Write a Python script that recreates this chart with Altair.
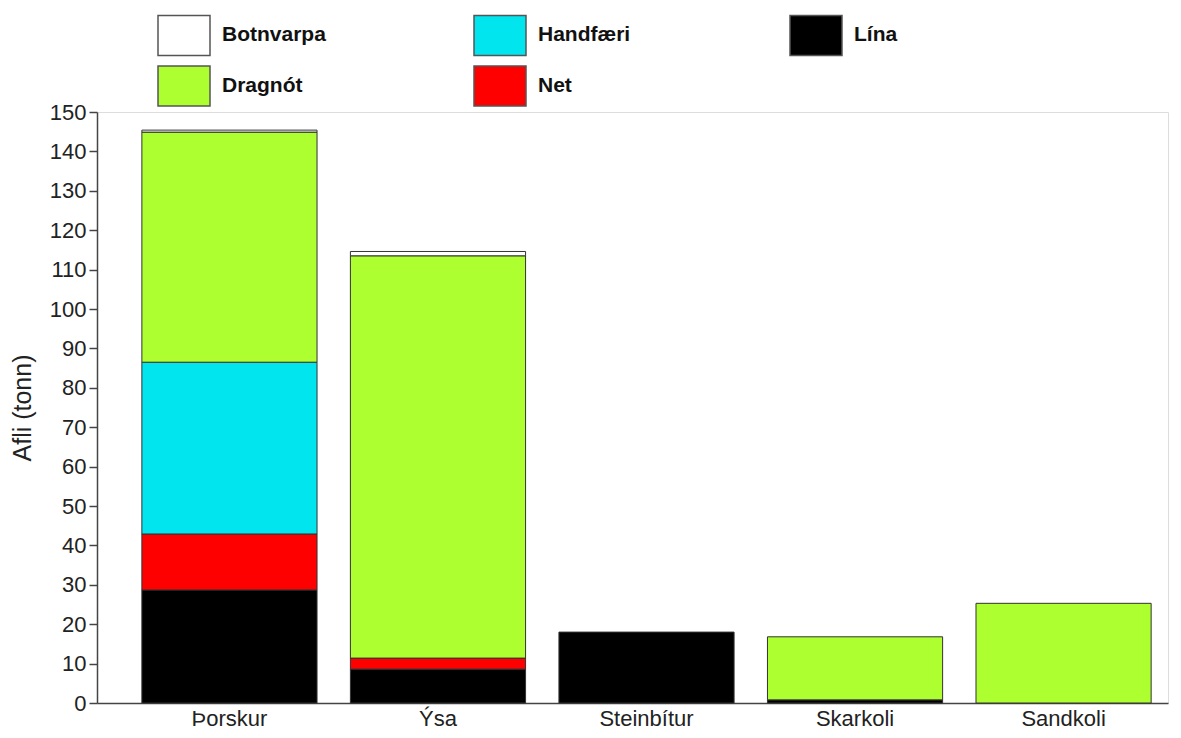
import altair as alt
import pandas as pd

species = ["Þorskur", "Ýsa", "Steinbítur", "Skarkoli", "Sandkoli"]
gears_stack = ["Lína", "Net", "Handfæri", "Dragnót", "Botnvarpa"]
legend_order = ["Botnvarpa", "Dragnót", "Handfæri", "Net", "Lína"]
gear_colors = {"Botnvarpa": "#ffffff", "Handfæri": "#00e5ee", "Lína": "#000000",
               "Dragnót": "#adff2f", "Net": "#ff0000"}

lina = [28.7, 8.6, 18.0, 0.8, 0.0]
net = [14.2, 2.8, 0.0, 0.0, 0.0]
handfaeri = [43.6, 0.0, 0.0, 0.0, 0.0]
dragnot = [58.4, 102.1, 0.0, 16.0, 25.3]
botnvarpa = [0.5, 1.1, 0.0, 0.0, 0.0]
y_ticks = list(range(0, 151, 10))

series = {"Lína": lina, "Net": net, "Handfæri": handfaeri,
          "Dragnót": dragnot, "Botnvarpa": botnvarpa}
rows = []
for g_i, g in enumerate(gears_stack):
    for s, v in zip(species, series[g]):
        if v > 0:
            rows.append({"Tegund": s, "Veiðarfæri": g, "Afli": v, "ord": g_i})
df = pd.DataFrame(rows)

font = "Liberation Sans"
rect_path = "M-1,-0.77H1V0.77H-1Z"

chart = alt.Chart(df).mark_bar(stroke="#333333", strokeWidth=1).encode(
    x=alt.X("Tegund:N", sort=species, title=None,
            scale=alt.Scale(paddingInner=0.16, paddingOuter=0.148, align=0.727),
            axis=alt.Axis(labelAngle=0, ticks=False, labelFontSize=22, labelFont=font,
                          labelColor="#222222", labelPadding=5, domainColor="#444444",
                          domainWidth=1.5)),
    y=alt.Y("Afli:Q", stack="zero", title="Afli (tonn)",
            scale=alt.Scale(domain=[0, 150], nice=False),
            axis=alt.Axis(values=y_ticks, grid=False, tickSize=8, tickColor="#444444",
                          tickWidth=1.5, labelFontSize=22, labelFont=font,
                          labelColor="#222222", labelPadding=3, domainColor="#444444",
                          domainWidth=1.5, titleFont=font, titleFontSize=25,
                          titleFontWeight="normal", titleColor="#222222", titlePadding=14)),
    color=alt.Color("Veiðarfæri:N",
                    scale=alt.Scale(domain=legend_order,
                                    range=[gear_colors[g] for g in legend_order]),
                    legend=alt.Legend(title=None, orient="none", legendX=60, legendY=-104,
                                      columns=3, gridAlign="all", columnPadding=145,
                                      rowPadding=-8, symbolType=rect_path, symbolSize=2704,
                                      symbolStrokeColor="#555555", symbolStrokeWidth=1.5,
                                      symbolOpacity=1, labelFont=font, labelFontSize=21,
                                      labelFontWeight="bold", labelColor="#111111",
                                      labelOffset=11)),
    order=alt.Order("ord:Q", sort="ascending"),
).properties(
    width=1071, height=591,
    autosize=alt.AutoSizeParams(type="none"),
    padding={"left": 89, "top": 104, "right": 5, "bottom": 27},
).configure_view(stroke="#444444", strokeWidth=1.5
).configure(background="white")

chart.save("out.html", embed_options={"renderer": "svg", "actions": False})
